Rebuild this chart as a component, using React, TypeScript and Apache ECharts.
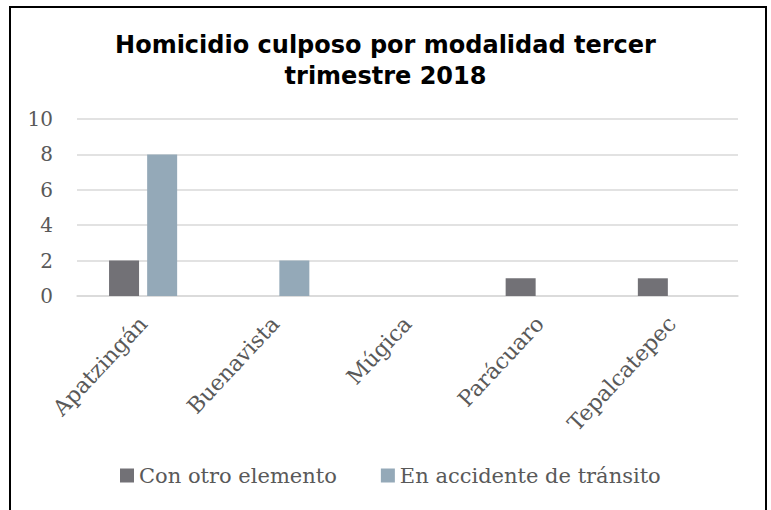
import React, { useEffect, useRef } from "react";
import * as echarts from "echarts";

const categories = ["Apatzingán", "Buenavista", "Múgica", "Parácuaro", "Tepalcatepec"];
const conOtroElemento = [2, 0, 0, 1, 1];
const enAccidenteTransito = [8, 2, 0, 0, 0];
const seriesNames = ["Con otro elemento", "En accidente de tránsito"];
const titleText = "Homicidio culposo por modalidad tercer\ntrimestre 2018";

export default function App() {
  const ref = useRef<HTMLDivElement>(null);
  useEffect(() => {
    if (!ref.current) return;
    const chart = echarts.init(ref.current, null, { renderer: "svg" });
    const serif = "DejaVu Serif";
    chart.setOption({
      animation: false,
      backgroundColor: "#ffffff",
      title: {
        text: titleText,
        left: "center",
        top: 24,
        textStyle: {
          fontFamily: "DejaVu Sans",
          fontWeight: "bold",
          fontSize: 24,
          color: "#000000",
          lineHeight: 31,
        },
      },
      graphic: [
        {
          type: "rect",
          shape: { x: 10, y: 7, width: 756, height: 520 },
          style: { fill: "none", stroke: "#000000", lineWidth: 2 },
          silent: true,
        },
      ],
      legend: {
        top: 460,
        left: 115,
        itemWidth: 14,
        itemHeight: 14,
        itemGap: 44,
        icon: "rect",
        textStyle: { fontFamily: serif, fontSize: 21, color: "#595959" },
        data: seriesNames,
      },
      grid: { left: 77, right: 33, top: 119, bottom: 214 },
      xAxis: {
        type: "category",
        data: categories,
        axisLine: { show: true, lineStyle: { color: "#d9d9d9", width: 1.5 } },
        axisTick: { show: false },
        axisLabel: {
          interval: 0,
          rotate: 47,
          margin: 24,
          fontFamily: serif,
          fontSize: 22,
          color: "#595959",
        },
      },
      yAxis: {
        type: "value",
        min: 0,
        max: 10,
        interval: 2,
        axisLine: { show: false },
        axisTick: { show: false },
        axisLabel: { fontFamily: serif, fontSize: 20, color: "#595959", margin: 24 },
        splitLine: { lineStyle: { color: "#d9d9d9", width: 1.5 } },
      },
      series: [
        {
          name: seriesNames[0],
          type: "bar",
          data: conOtroElemento,
          barWidth: 30,
          barGap: "27%",
          itemStyle: { color: "#727176" },
        },
        {
          name: seriesNames[1],
          type: "bar",
          data: enAccidenteTransito,
          barWidth: 30,
          barGap: "27%",
          itemStyle: { color: "#94A9B8" },
        },
      ],
    });
    return () => chart.dispose();
  }, []);
  return (
    <div
      ref={ref}
      style={{ position: "absolute", left: 0, top: 0, width: 771, height: 510 }}
    />
  );
}
